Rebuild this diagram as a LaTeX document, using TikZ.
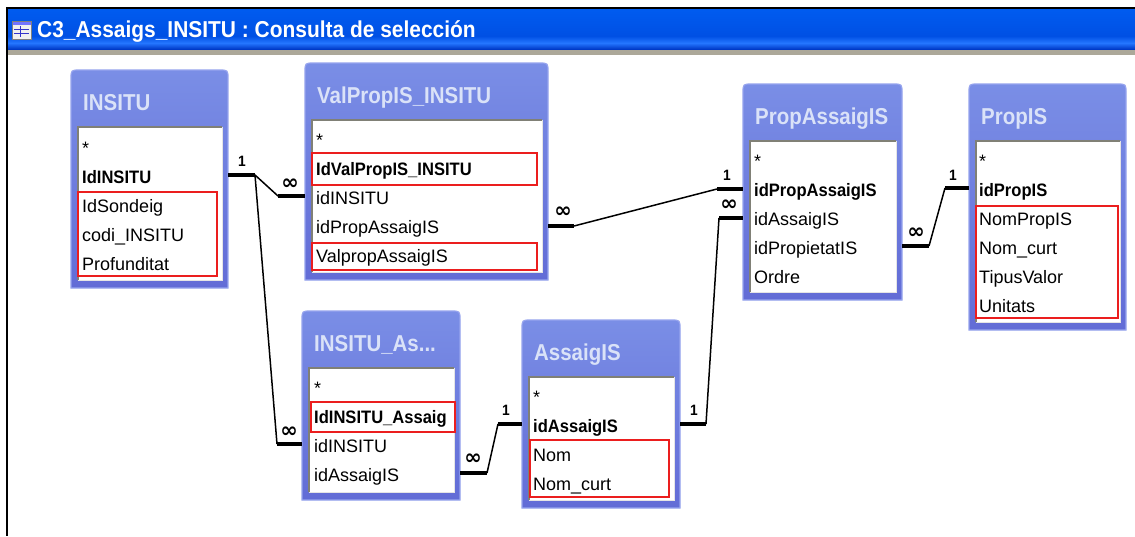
\documentclass[tikz,border=0pt]{standalone}
\usepackage{fontspec}
\setmainfont{Liberation Sans}[BoldFeatures={FakeStretch=0.92}]
\newfontfamily\capfont{Liberation Sans}[FakeStretch=0.89]
\newfontfamily\wincapfont{Liberation Sans}[FakeStretch=0.91]
\newfontfamily\symfont{DejaVu Sans}

\definecolor{xpblue}{RGB}{0,80,228}
\definecolor{xpbluetop}{RGB}{0,92,240}
\definecolor{xpbluehi}{RGB}{36,118,255}
\definecolor{xpbluelo}{RGB}{0,58,200}
\definecolor{xpgray}{RGB}{172,168,153}
\definecolor{tabtop}{RGB}{122,142,230}
\definecolor{tabbot}{RGB}{98,108,214}
\definecolor{tabedge}{RGB}{150,164,238}
\definecolor{tabtext}{RGB}{218,226,248}
\definecolor{wellgray}{RGB}{128,128,118}
\definecolor{keyred}{RGB}{235,30,30}

\tikzset{
  tabbody/.style={top color=tabtop, bottom color=tabbot, draw=tabedge, line width=1.2pt},
  tabtitle/.style={anchor=west, inner sep=0pt, text=tabtext, text height=16.5pt, text depth=0pt,
    font=\capfont\bfseries\fontsize{23}{23}\selectfont},
  rowtext/.style={anchor=west, inner sep=0pt, text height=13pt, text depth=0pt,
    font=\fontsize{18}{18}\selectfont},
  keyrow/.style={rowtext, font=\bfseries\fontsize{18}{18}\selectfont},
  keybox/.style={draw=keyred, line width=1.3pt},
  stub/.style={line width=4.8pt, line cap=butt},
  link/.style={line width=1.5pt},
  one/.style={inner sep=0pt, font=\bfseries\fontsize{15}{15}\selectfont},
  many/.style={inner sep=0pt, font=\symfont\bfseries\fontsize{21}{21}\selectfont},
}

% #1 name, #2 left, #3 top, #4 right, #5 bottom, #6 title
\newcommand\dbtable[6]{%
  \path[tabbody] (#2,#5) -- (#2,#3+9) .. controls (#2,#3) .. (#2+9,#3)
     -- (#4-9,#3) .. controls (#4,#3) .. (#4,#3+9) -- (#4,#5) -- cycle;
  \fill[white] (#2+7,#3+57) rectangle (#4-6,#5-8);
  \draw[white!80!gray, line width=1pt] (#4-6,#3+57) -- (#4-6,#5-8) -- (#2+7,#5-8);
  \draw[wellgray, line width=1.6pt] (#2+7,#5-8) -- (#2+7,#3+57) -- (#4-6,#3+57);
  \node[tabtitle] (#1) at (#2+12,#3+32) {#6};
}

\begin{document}
\begin{tikzpicture}[x=1pt,y=-1pt]
\useasboundingbox (0,0) rectangle (1135,536);
\fill[white] (0,0) rectangle (1135,536);

% window caption
\fill[xpgray] (7,48) rectangle (1135,55);
\shade[top color=xpbluetop, bottom color=xpblue] (7,8) rectangle (1135,36);
\shade[top color=xpblue, bottom color=xpbluehi] (7,36) rectangle (1135,43);
\shade[top color=xpbluehi, bottom color=xpbluelo] (7,43) rectangle (1135,49);
\draw[line width=2pt] (6,8) -- (1135,8);
\draw[line width=2pt] (7,7) -- (7,536);

% caption icon
\fill[white!88!gray] (12,21) rectangle (31,39);
\fill[blue!55!white] (12,21) rectangle (31,25);
\draw[gray, line width=0.6pt] (12,21) rectangle (31,39);
\foreach \yy in {29,33} \draw[blue!60!gray, line width=1pt] (14,\yy) -- (29,\yy);
\draw[blue!60!gray, line width=1pt] (20,26) -- (20,37);
\node[anchor=west, inner sep=0pt, text=white, text height=16.5pt, text depth=0pt,
  font=\wincapfont\bfseries\fontsize{23}{23}\selectfont] (caption) at (37,29)
  {C3\_Assaigs\_INSITU : Consulta de selección};

% tables
\dbtable{insitu}{71}{70}{228}{288}{INSITU}
\dbtable{valprop}{305}{63}{548}{280}{ValPropIS\_INSITU}
\dbtable{propassaig}{743}{84}{902}{300}{PropAssaigIS}
\dbtable{propis}{969}{84}{1126}{330}{PropIS}
\dbtable{insituas}{302}{311}{460}{500}{INSITU\_As...}
\dbtable{assaig}{522}{320}{680}{508}{AssaigIS}

% INSITU fields
\node[rowtext] (insitu-all) at (82,148) {*};
\node[keyrow]  (insitu-id) at (82,177) {IdINSITU};
\node[rowtext] (insitu-f2) at (82,206) {IdSondeig};
\node[rowtext] (insitu-f3) at (82,235) {codi\_INSITU};
\node[rowtext] (insitu-f4) at (82,264) {Profunditat};
\draw[keybox] (78,192) rectangle (217,276);

% ValPropIS_INSITU fields
\node[rowtext] (valprop-all) at (316,140) {*};
\node[keyrow]  (valprop-id) at (316,169) {IdValPropIS\_INSITU};
\node[rowtext] (valprop-f2) at (316,198) {idINSITU};
\node[rowtext] (valprop-f3) at (316,227) {idPropAssaigIS};
\node[rowtext] (valprop-f4) at (316,256) {ValpropAssaigIS};
\draw[keybox] (312,153) rectangle (537,185);
\draw[keybox] (312,243) rectangle (537,270);

% PropAssaigIS fields
\node[rowtext] (propassaig-all) at (754,161) {*};
\node[keyrow]  (propassaig-id) at (754,190) {idPropAssaigIS};
\node[rowtext] (propassaig-f2) at (754,219) {idAssaigIS};
\node[rowtext] (propassaig-f3) at (754,248) {idPropietatIS};
\node[rowtext] (propassaig-f4) at (754,277) {Ordre};

% PropIS fields
\node[rowtext] (propis-all) at (979,161) {*};
\node[keyrow]  (propis-id) at (979,190) {idPropIS};
\node[rowtext] (propis-f2) at (979,219) {NomPropIS};
\node[rowtext] (propis-f3) at (979,248) {Nom\_curt};
\node[rowtext] (propis-f4) at (979,277) {TipusValor};
\node[rowtext] (propis-f5) at (979,306) {Unitats};
\draw[keybox] (976,206) rectangle (1118,318);

% INSITU_AssaigIS fields
\node[rowtext] (insituas-all) at (314,388) {*};
\begin{scope}
  \clip (309,400) rectangle (453,435);
  \node[keyrow] (insituas-id) at (314,417) {IdINSITU\_Assaig};
\end{scope}
\node[rowtext] (insituas-f2) at (314,446) {idINSITU};
\node[rowtext] (insituas-f3) at (314,475) {idAssaigIS};
\draw[keybox] (311,402) rectangle (455,432);

% AssaigIS fields
\node[rowtext] (assaig-all) at (533,397) {*};
\node[keyrow]  (assaig-id) at (533,426) {idAssaigIS};
\node[rowtext] (assaig-f2) at (533,455) {Nom};
\node[rowtext] (assaig-f3) at (533,484) {Nom\_curt};
\draw[keybox] (530,440) rectangle (669,497);

% join end points
\coordinate (a0) at (228,175);  \coordinate (a1) at (255,175);
\coordinate (b0) at (305,196);  \coordinate (b1) at (278,196);
\coordinate (c0) at (302,444);  \coordinate (c1) at (277,444);
\coordinate (d0) at (548,226);  \coordinate (d1) at (574,226);
\coordinate (e0) at (743,189);  \coordinate (e1) at (717,189);
\coordinate (f0) at (743,218);  \coordinate (f1) at (719,218);
\coordinate (g0) at (680,424);  \coordinate (g1) at (706,424);
\coordinate (h0) at (902,246);  \coordinate (h1) at (929,246);
\coordinate (i0) at (969,188);  \coordinate (i1) at (945,188);
\coordinate (j0) at (460,473);  \coordinate (j1) at (487,473);
\coordinate (k0) at (522,424);  \coordinate (k1) at (498,424);

% INSITU -> ValPropIS_INSITU and INSITU_AssaigIS
\draw[stub] (a0) -- (a1);
\draw[link] (a1) -- (b1);
\draw[stub] (b1) -- (b0);
\draw[link] (a1) -- (c1);
\draw[stub] (c1) -- (c0);
\node[one]  (l-a) at (242,161) {1};
\node[many] (l-b) at (290,184) {∞};
\node[many] (l-c) at (289,432) {∞};

% PropAssaigIS -> ValPropIS_INSITU
\draw[stub] (d0) -- (d1);
\draw[link] (d1) -- (e1);
\draw[stub] (e1) -- (e0);
\node[many] (l-d) at (563,212) {∞};
\node[one]  (l-e) at (727,175) {1};

% AssaigIS -> PropAssaigIS
\draw[stub] (g0) -- (g1);
\draw[link] (g1) -- (f1);
\draw[stub] (f1) -- (f0);
\node[one]  (l-g) at (694,410) {1};
\node[many] (l-f) at (729,205) {∞};

% PropIS -> PropAssaigIS
\draw[stub] (h0) -- (h1);
\draw[link] (h1) -- (i1);
\draw[stub] (i1) -- (i0);
\node[many] (l-h) at (916,233) {∞};
\node[one]  (l-i) at (953,175) {1};

% AssaigIS -> INSITU_AssaigIS
\draw[stub] (j0) -- (j1);
\draw[link] (j1) -- (k1);
\draw[stub] (k1) -- (k0);
\node[many] (l-j) at (473,459) {∞};
\node[one]  (l-k) at (506,410) {1};
\end{tikzpicture}
\end{document}
